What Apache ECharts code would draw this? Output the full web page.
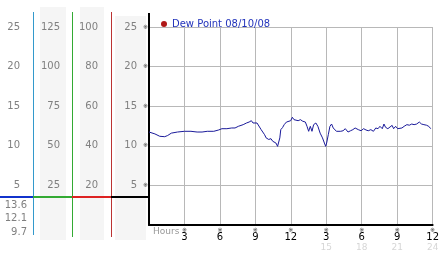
<!DOCTYPE html>
<html><head><meta charset="utf-8">
<script src="https://cdn.jsdelivr.net/npm/echarts@6/dist/echarts.min.js"></script>
<style>html,body{margin:0;padding:0;background:#fff}#c{width:442px;height:253px}</style>
</head><body><div id="c"></div>
<script>
const seriesName = 'Dew Point 08/10/08';
const hours = [0.00,0.50,0.91,1.33,1.58,1.89,2.41,2.99,3.55,4.07,4.49,4.93,5.48,5.90,6.17,6.59,7.00,7.28,7.56,7.97,8.25,8.47,8.66,8.80,8.95,9.14,9.30,9.49,9.63,9.78,9.91,10.13,10.32,10.47,10.61,10.74,10.88,10.94,11.07,11.15,11.30,11.44,11.63,11.79,11.99,12.13,12.27,12.40,12.62,12.81,13.01,13.23,13.37,13.51,13.65,13.79,13.93,14.12,14.29,14.48,14.68,14.84,14.95,15.03,15.17,15.31,15.45,15.59,15.72,15.86,16.00,16.22,16.42,16.61,16.84,17.05,17.25,17.44,17.52,17.71,17.94,18.16,18.36,18.55,18.77,18.99,19.19,19.38,19.54,19.74,19.88,20.02,20.21,20.37,20.57,20.70,20.87,21.04,21.20,21.40,21.59,21.82,22.03,22.23,22.43,22.65,22.87,23.06,23.26,23.48,23.67,23.84];
const dewPoint = [11.74,11.5,11.2,11.15,11.3,11.6,11.74,11.83,11.83,11.74,11.74,11.83,11.83,12.0,12.16,12.16,12.25,12.25,12.46,12.67,12.88,13.0,13.17,12.88,13.1,12.88,12.67,12.04,11.83,11.4,11.0,10.8,10.9,10.57,10.8,10.35,9.93,9.7,11.0,12.04,12.3,12.67,13.0,12.88,13.17,13.6,13.3,13.42,13.17,13.3,13.1,13.0,12.46,11.83,12.46,11.83,12.67,12.88,12.46,11.6,11.0,10.35,9.93,10.35,11.4,12.46,12.75,12.25,12.46,11.83,11.6,11.83,11.9,12.16,11.74,11.9,12.04,12.25,12.33,12.04,11.9,12.16,12.0,11.9,12.04,11.83,12.25,12.16,12.46,12.16,12.75,12.33,12.16,12.04,12.58,12.16,12.46,12.16,12.25,12.25,12.46,12.67,12.6,12.75,12.67,12.75,13.0,12.75,12.67,12.6,12.46,12.16];
const panelMax = [25, 125, 100, 25];
const panelInterval = [5, 25, 20, 5];
const stats = ['13.6', '12.1', '9.7'];
const xTickStep = 3;
const xMax = 24;

const FONT = 'DejaVu Sans';
const chart = echarts.init(document.getElementById('c'), null, {renderer: 'canvas'});

const panelOffsets = [117, 77, 39, 0];
const panelAxes = panelMax.map((mx, i) => ({
  type: 'value', position: 'left', offset: panelOffsets[i], min: 0, max: mx, interval: panelInterval[i],
  axisLine: {show: false}, axisTick: {show: false}, splitLine: {show: false},
  axisLabel: {showMinLabel: false, margin: 12, color: '#808080', fontSize: 10, fontFamily: FONT}
}));

const statTexts = stats.map((s, i) => ({
  type: 'text', right: 442 - 27, top: 200 + i * 13.5,
  style: {text: s, fill: '#808080', font: '10px "DejaVu Sans"', textAlign: 'right'}
}));

chart.setOption({
  animation: false,
  backgroundColor: '#fff',
  grid: {left: 149, top: 27, right: 4, bottom: 28},
  legend: {
    left: 156, top: 14, itemWidth: 6, itemHeight: 6, icon: 'circle',
    data: [{name: seriesName, itemStyle: {color: '#b01818'}}],
    textStyle: {color: '#2233bb', fontSize: 10, fontFamily: FONT}
  },
  xAxis: {
    type: 'value', min: 0, max: xMax, interval: xTickStep,
    axisLine: {lineStyle: {color: '#000', width: 2}},
    axisTick: {show: false},
    splitLine: {lineStyle: {color: '#b8b8b8', width: 1}},
    axisLabel: {
      margin: 3, showMinLabel: false,
      formatter: v => {
        if (v === 0) return '';
        const h = v > 12 ? v - 12 : v;
        let s = '{g|※}\n{n|' + h + '}';
        if (v > 12) s += '\n{f|' + v + '}';
        return s;
      },
      rich: {
        g: {fontSize: 6, lineHeight: 5, color: '#333', fontFamily: 'DejaVu Sans, "Noto Sans CJK JP"'},
        n: {fontSize: 10, lineHeight: 9, color: '#000', fontFamily: FONT},
        f: {fontSize: 9, lineHeight: 12, color: '#d6d6d6', fontFamily: FONT}
      }
    }
  },
  yAxis: [{
    type: 'value', min: 0, max: 25, interval: 5,
    axisLine: {show: true, lineStyle: {color: '#000', width: 2}},
    axisTick: {show: false},
    splitLine: {lineStyle: {color: '#b8b8b8', width: 1}},
    axisLabel: {showMinLabel: false, margin: 1, formatter: () => '※', fontSize: 6, color: '#333', fontFamily: 'DejaVu Sans, "Noto Sans CJK JP"'}
  }].concat(panelAxes),
  graphic: [
    {type: 'rect', shape: {x: 40, y: 7, width: 26, height: 233}, style: {fill: '#f5f5f5'}, z: -10},
    {type: 'rect', shape: {x: 80, y: 7, width: 24, height: 233}, style: {fill: '#f5f5f5'}, z: -10},
    {type: 'rect', shape: {x: 115, y: 16, width: 31, height: 224}, style: {fill: '#f5f5f5'}, z: -10},
    {type: 'line', shape: {x1: 33.5, y1: 12, x2: 33.5, y2: 235}, style: {stroke: '#3399cc', lineWidth: 1}},
    {type: 'line', shape: {x1: 72.5, y1: 12, x2: 72.5, y2: 237}, style: {stroke: '#33aa33', lineWidth: 1}},
    {type: 'line', shape: {x1: 111.5, y1: 12, x2: 111.5, y2: 237}, style: {stroke: '#bb3333', lineWidth: 1}},
    {type: 'line', shape: {x1: 149, y1: 13, x2: 149, y2: 28}, style: {stroke: '#000', lineWidth: 2}},
    {type: 'line', shape: {x1: 0, y1: 197, x2: 33, y2: 197}, style: {stroke: '#1133cc', lineWidth: 2}},
    {type: 'line', shape: {x1: 33, y1: 197, x2: 72, y2: 197}, style: {stroke: '#33aa33', lineWidth: 2}},
    {type: 'line', shape: {x1: 72, y1: 197, x2: 111, y2: 197}, style: {stroke: '#dd2222', lineWidth: 2}},
    {type: 'line', shape: {x1: 111, y1: 197, x2: 149, y2: 197}, style: {stroke: '#000', lineWidth: 2}},
    {type: 'text', left: 153, top: 227, style: {text: 'Hours', fill: '#999', font: '9px "DejaVu Sans"'}}
  ].concat(statTexts),
  series: [{
    name: seriesName, type: 'line', yAxisIndex: 0, showSymbol: false, symbol: 'none',
    itemStyle: {color: '#b01818'},
    lineStyle: {color: '#1a1a9a', width: 1},
    data: hours.map((h, i) => [h, dewPoint[i]])
  }]
});
</script></body></html>
